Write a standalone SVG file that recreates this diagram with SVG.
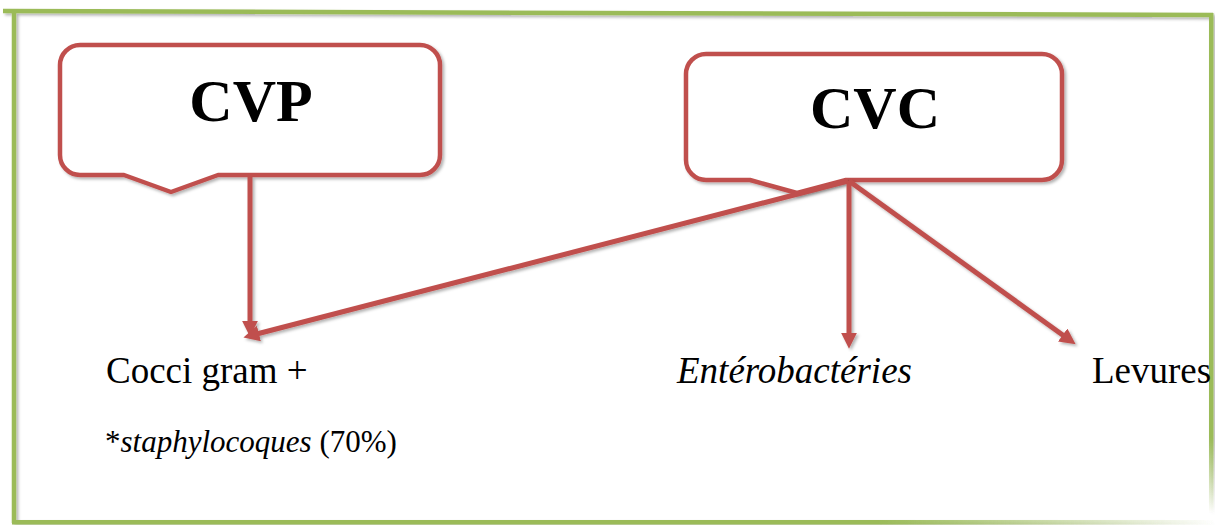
<svg xmlns="http://www.w3.org/2000/svg" width="1215" height="525" viewBox="0 0 1215 525">
  <style>
    .frame { stroke: #9BBB59; stroke-width: 4.5; fill: none; }
    .callout { fill: #FFFFFF; stroke: #C0504D; stroke-width: 4.5; stroke-linejoin: round; }
    .title { font-family: "Liberation Serif", "Times New Roman", serif; font-weight: bold; font-size: 60px; fill: #000; text-anchor: middle; }
    .lbl { font-family: "Liberation Serif", "Times New Roman", serif; font-size: 37px; fill: #000; }
    .small { font-family: "Liberation Serif", "Times New Roman", serif; font-size: 31px; fill: #000; }
    .conn { stroke: #C0504D; stroke-width: 5; fill: none; marker-end: url(#arrow); }
  </style>
  <defs>
    <marker id="arrow" viewBox="0 0 10 10" refX="6.4" refY="5" markerWidth="16" markerHeight="16" markerUnits="userSpaceOnUse" orient="auto">
      <path d="M0,0 L10,5 L0,10 Z" fill="#C0504D"/>
    </marker>
    <filter id="shadow" x="-5%" y="-5%" width="110%" height="110%">
      <feDropShadow dx="2" dy="2" stdDeviation="1.5" flood-color="#000" flood-opacity="0.3"/>
    </filter>
    <linearGradient id="fadeX" x1="0" y1="0" x2="1" y2="0">
      <stop offset="0" stop-color="#9BBB59"/>
      <stop offset="0.72" stop-color="#9BBB59"/>
      <stop offset="1" stop-color="#9BBB59" stop-opacity="0"/>
    </linearGradient>
    <linearGradient id="fadeY" x1="0" y1="0" x2="0" y2="1">
      <stop offset="0" stop-color="#9BBB59"/>
      <stop offset="0.85" stop-color="#9BBB59"/>
      <stop offset="1" stop-color="#9BBB59" stop-opacity="0"/>
    </linearGradient>
  </defs>

  <rect x="0" y="0" width="1215" height="525" fill="#FFFFFF"/>

  <g id="frame" filter="url(#shadow)">
    <line x1="3" y1="11" x2="1213" y2="15" class="frame"/>
    <line x1="14" y1="12" x2="14" y2="523" class="frame"/>
    <rect x="12" y="520" width="1203" height="4.5" fill="url(#fadeX)"/>
    <rect x="1209" y="13" width="4.5" height="500" fill="url(#fadeY)"/>
  </g>

  <g id="node-cvp">
    <path class="callout" filter="url(#shadow)" d="M80,45 H420 A20,20 0 0 1 440,65 V155 A20,20 0 0 1 420,175 H218 L171,192 L124,175 H80 A20,20 0 0 1 60,155 V65 A20,20 0 0 1 80,45 Z"/>
    <text class="title" x="251" y="121">CVP</text>
  </g>

  <g id="node-cvc">
    <path class="callout" filter="url(#shadow)" d="M706,54 H1042 A20,20 0 0 1 1062,74 V160 A20,20 0 0 1 1042,180 H846 L797,193 L750,180 H706 A20,20 0 0 1 686,160 V74 A20,20 0 0 1 706,54 Z"/>
    <text class="title" x="875" y="128">CVC</text>
  </g>

  <g id="connectors" filter="url(#shadow)">
    <line class="conn" x1="250" y1="177" x2="250" y2="331"/>
    <line class="conn" x1="848" y1="181" x2="249" y2="336"/>
    <line class="conn" x1="849" y1="181" x2="849" y2="343"/>
    <line class="conn" x1="849" y1="181" x2="1071" y2="341"/>
  </g>

  <g id="node-cocci">
    <text class="lbl" x="106" y="383">Cocci gram +</text>
    <text class="small" x="105" y="452">*<tspan font-style="italic">staphylocoques</tspan> (70%)</text>
  </g>

  <g id="node-entero">
    <text class="lbl" x="677" y="383" font-style="italic">Entérobactéries</text>
  </g>

  <g id="node-levures">
    <text class="lbl" x="1092" y="383">Levures</text>
  </g>
</svg>
